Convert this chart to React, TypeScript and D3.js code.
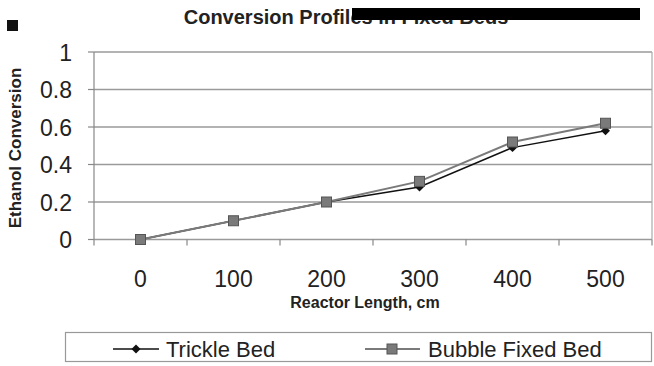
import React from "react";
import * as d3 from "d3";

const categories = ["0", "100", "200", "300", "400", "500"];
const trickleBed = [0, 0.1, 0.2, 0.28, 0.49, 0.58];
const bubbleFixedBed = [0, 0.1, 0.2, 0.31, 0.52, 0.62];
const yTicks = [0, 0.2, 0.4, 0.6, 0.8, 1];
const seriesNames = ["Trickle Bed", "Bubble Fixed Bed"];

const W = 654;
const H = 366;
const left = 94;
const right = 652;
const top = 52;
const bottom = 239.5;
const font = "'Liberation Sans', Arial, Helvetica, sans-serif";

export default function App() {
  const x = d3.scaleBand<string>().domain(categories).range([left, right]).padding(0);
  const y = d3.scaleLinear().domain([0, 1]).range([bottom, top]);
  const cx = (c: string) => (x(c) as number) + x.bandwidth() / 2;

  const line = d3
    .line<number>()
    .x((_, i) => cx(categories[i]))
    .y((d) => y(d));

  const diamond = d3.symbol().type(d3.symbolSquare).size(40);

  return (
    <svg
      width={W}
      height={H}
      style={{ position: "absolute", left: 0, top: 0, background: "#fff" }}
      fontFamily={font}
    >
      {/* title */}
      <text x={346} y={24} textAnchor="middle" fontSize={20} fontWeight="bold" fill="#222">
        Conversion Profiles in Fixed Beds
      </text>
      <rect x={352} y={8} width={288} height={12} fill="#000" />
      <rect x={7} y={20} width={11} height={11} fill="#111" />

      {/* gridlines */}
      {yTicks.map((t) => (
        <line key={"g" + t} x1={left} x2={right} y1={y(t)} y2={y(t)} stroke="#9a9a9a" strokeWidth={1.5} />
      ))}
      {/* y axis */}
      <line x1={left} x2={left} y1={top} y2={bottom + 6} stroke="#888" strokeWidth={1.2} />
      <line x1={right} x2={right} y1={top} y2={bottom} stroke="#aaa" strokeWidth={1.2} />
      {yTicks.map((t) => (
        <g key={"yt" + t}>
          <line x1={left - 6} x2={left} y1={y(t)} y2={y(t)} stroke="#888" strokeWidth={1.2} />
          <text x={72} y={y(t) + 8.5} textAnchor="end" fontSize={23} fill="#222">
            {d3.format("~g")(t)}
          </text>
        </g>
      ))}
      {/* x axis ticks */}
      {categories.map((c) => (
        <line
          key={"xt" + c}
          x1={(x(c) as number) + x.bandwidth()}
          x2={(x(c) as number) + x.bandwidth()}
          y1={bottom}
          y2={bottom + 6}
          stroke="#888"
          strokeWidth={1.2}
        />
      ))}
      {categories.map((c) => (
        <text key={"xl" + c} x={cx(c)} y={287} textAnchor="middle" fontSize={23} fill="#222">
          {c}
        </text>
      ))}

      {/* axis titles */}
      <text x={365} y={308} textAnchor="middle" fontSize={16} fontWeight="bold" fill="#222">
        Reactor Length, cm
      </text>
      <text
        transform={`translate(21,148) rotate(-90)`}
        textAnchor="middle"
        fontSize={17}
        fontWeight="bold"
        fill="#222"
      >
        Ethanol Conversion
      </text>

      {/* series */}
      <path d={line(trickleBed) || ""} fill="none" stroke="#111" strokeWidth={1.5} />
      <path d={line(bubbleFixedBed) || ""} fill="none" stroke="#7a7a7a" strokeWidth={2} />
      {trickleBed.map((v, i) => (
        <path
          key={"td" + i}
          d={diamond() || ""}
          transform={`translate(${cx(categories[i])},${y(v)}) rotate(45)`}
          fill="#111"
        />
      ))}
      {bubbleFixedBed.map((v, i) => (
        <rect
          key={"bs" + i}
          x={cx(categories[i]) - 5}
          y={y(v) - 5}
          width={10}
          height={10}
          fill="#7a7a7a"
          stroke="#555"
          strokeWidth={1}
        />
      ))}

      {/* legend */}
      <rect x={65.5} y={332.5} width={586} height={29} fill="#fff" stroke="#999" strokeWidth={1.2} />
      <line x1={113} x2={159} y1={349} y2={349} stroke="#111" strokeWidth={1.5} />
      <path d={diamond() || ""} transform="translate(136,349) rotate(45)" fill="#111" />
      <text x={166} y={357} fontSize={22} fill="#222">
        {seriesNames[0]}
      </text>
      <line x1={365} x2={420} y1={349} y2={349} stroke="#7a7a7a" strokeWidth={2} />
      <rect x={387} y={344} width={10} height={10} fill="#7a7a7a" stroke="#555" />
      <text x={428} y={357} fontSize={22} fill="#222">
        {seriesNames[1]}
      </text>
    </svg>
  );
}
